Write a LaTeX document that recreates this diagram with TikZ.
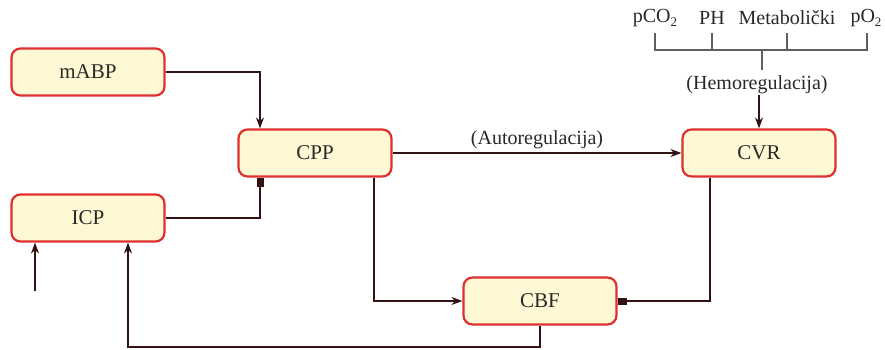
\documentclass[tikz,border=0pt]{standalone}
\usepackage{fontspec}
\setmainfont{Liberation Serif}
\usetikzlibrary{arrows.meta}
\definecolor{boxred}{RGB}{222,48,48}
\definecolor{boxfill}{RGB}{255,248,212}
\definecolor{linec}{RGB}{50,18,18}
\definecolor{txtc}{RGB}{40,40,40}
\definecolor{brk}{RGB}{95,95,95}
\tikzset{
  box/.style={draw=boxred, fill=boxfill, rounded corners=9pt, line width=2.2pt,
    minimum width=153pt, minimum height=47pt, text=txtc,
    font=\fontsize{21}{24}\selectfont},
  lbl/.style={text=txtc, font=\fontsize{20}{23}\selectfont, inner sep=1pt},
  conn/.style={draw=linec, line width=1.2pt},
  arr/.style={conn, -{Stealth[length=11pt,width=8pt]}},
  sqr/.style={conn, -{Square[length=9pt,width=7pt]}},
  brkline/.style={draw=brk, line width=1.2pt}
}
\begin{document}
\begin{tikzpicture}[x=1pt,y=-1pt]
\useasboundingbox (0,0) rectangle (885,349);
\node[box] (mabp) at (88,72) {mABP};
\node[box] (icp) at (88,218) {ICP};
\node[box] (cpp) at (315,153) {CPP};
\node[box] (cvr) at (759,153) {CVR};
\node[box] (cbf) at (540,301) {CBF};

\node[lbl] (pco) at (655,18) {pCO\raisebox{-4pt}{\fontsize{13}{15}\selectfont 2}};
\node[lbl] (ph) at (712,18) {PH};
\node[lbl] (met) at (787,18) {Metabolički};
\node[lbl] (po) at (866,18) {pO\raisebox{-4pt}{\fontsize{13}{15}\selectfont 2}};
\node[lbl] (hemo) at (757,85) {(Hemoregulacija)};

\coordinate (bl) at (655,50);
\coordinate (br) at (867,50);
\draw[brkline] (655,33) -- (bl) -- (br) -- (867,33);
\draw[brkline] (712,33) -- (712,50);
\draw[brkline] (787,33) -- (787,50);
\draw[brkline] (762,50) -- (762,70);

\draw[arr] (hemo.south -| cvr.north) -- (cvr.north);
\draw[arr] (mabp.east) -| (cpp.north -| 260,0);
\draw[sqr] (icp.east) -| (cpp.south -| 260,0);
\draw[arr] (cpp.east) -- node[lbl, above=3pt] (auto) {(Autoregulacija)} (cvr.west);
\draw[arr] (cpp.south -| 374,0) |- (cbf.west);
\draw[sqr] (cvr.south -| 710,0) |- (cbf.east);
\coordinate (loop) at (128,347);
\draw[arr] (cbf.south) |- (loop) -- (icp.south -| loop);
\coordinate (free) at (35,291);
\draw[arr] (free) -- (icp.south -| free);
\end{tikzpicture}
\end{document}
